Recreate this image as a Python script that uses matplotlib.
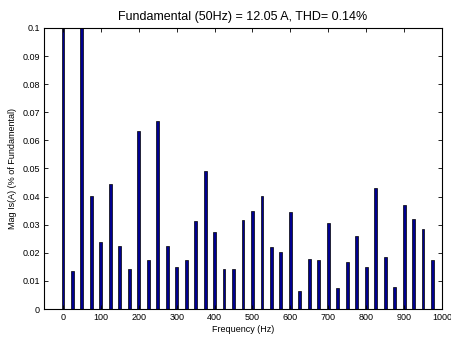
import matplotlib
matplotlib.use("Agg")
import matplotlib.pyplot as plt
import numpy as np

# harmonic spectrum, 25 Hz steps
freqs = np.arange(0, 1000, 25)
mags = [0.15, 0.0136, 0.15, 0.0402, 0.0237, 0.0445, 0.0224, 0.0142,
        0.0635, 0.0176, 0.0668, 0.0224, 0.0148, 0.0174, 0.0313, 0.0490,
        0.0273, 0.0141, 0.0141, 0.0316, 0.0349, 0.0403, 0.0222, 0.0202,
        0.0344, 0.0064, 0.0177, 0.0174, 0.0307, 0.0075, 0.0166, 0.0260,
        0.0148, 0.0431, 0.0186, 0.0079, 0.0370, 0.0320, 0.0286, 0.0174]
title = "Fundamental (50Hz) = 12.05 A, THD= 0.14%"

plt.rcParams['font.family'] = ['Liberation Sans', 'DejaVu Sans']

fig = plt.figure(figsize=(4.51, 3.43), dpi=100)
ax = fig.add_axes([0.0976, 0.0991, 0.8824, 0.8193])

ax.bar(freqs, mags, width=7.5, color='#000090', edgecolor='black', linewidth=0.5)
ax.set_xlim(-50, 1000)
ax.set_ylim(0, 0.1)
ax.set_xticks(np.arange(0, 1001, 100))
ax.set_yticks(np.arange(0, 0.101, 0.01))
ax.set_yticklabels(['0', '0.01', '0.02', '0.03', '0.04', '0.05', '0.06',
                    '0.07', '0.08', '0.09', '0.1'])
ax.tick_params(direction='in', length=3, width=0.6, labelsize=6.5,
               top=True, right=True, pad=3)
for s in ax.spines.values():
    s.set_linewidth(0.8)

ax.set_title(title, fontsize=9, pad=6)
ax.set_xlabel('Frequency (Hz)', fontsize=6.5, labelpad=2)
ax.set_ylabel('Mag Is(A) (% of Fundamental)', fontsize=6.5, labelpad=4)

fig.savefig('out.png', dpi=100)
